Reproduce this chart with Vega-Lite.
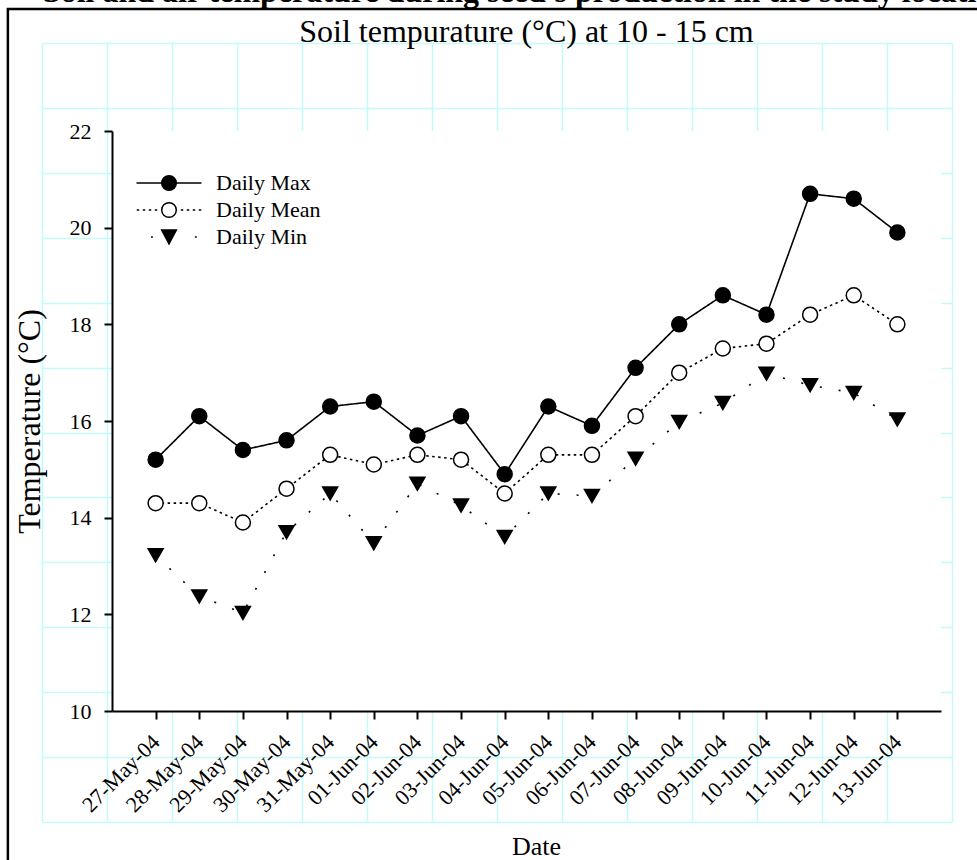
{
  "$schema": "https://vega.github.io/schema/vega-lite/v6.json",
  "width": 829,
  "height": 580,
  "autosize": {"type": "none"},
  "padding": {"left": 112, "top": 131, "right": 36, "bottom": 149},
  "background": "white",
  "config": {
    "view": {"stroke": null},
    "font": "Liberation Serif",
    "axis": {"labelFont": "Liberation Serif", "titleFont": "Liberation Serif", "labelColor": "black", "titleColor": "black", "titleFontWeight": "normal", "domainColor": "black", "tickColor": "black"},
    "legend": {"labelFont": "Liberation Serif", "labelColor": "black"}
  },
  "title": {
    "text": "Soil and air temperature during seed's production in the study location",
    "subtitle": "Soil tempurature (°C) at 10 - 15 cm",
    "anchor": "middle",
    "frame": "group",
    "font": "Liberation Serif",
    "fontSize": 32,
    "fontWeight": "bold",
    "color": "black",
    "subtitleFont": "Liberation Serif",
    "subtitleFontSize": 32,
    "subtitleFontWeight": "normal",
    "subtitleColor": "black",
    "subtitlePadding": 8,
    "offset": -41
  },
  "datasets": {
    "temps": [
      {"date": "27-May-04", "series": "Daily Max", "value": 15.2},
      {"date": "28-May-04", "series": "Daily Max", "value": 16.1},
      {"date": "29-May-04", "series": "Daily Max", "value": 15.4},
      {"date": "30-May-04", "series": "Daily Max", "value": 15.6},
      {"date": "31-May-04", "series": "Daily Max", "value": 16.3},
      {"date": "01-Jun-04", "series": "Daily Max", "value": 16.4},
      {"date": "02-Jun-04", "series": "Daily Max", "value": 15.7},
      {"date": "03-Jun-04", "series": "Daily Max", "value": 16.1},
      {"date": "04-Jun-04", "series": "Daily Max", "value": 14.9},
      {"date": "05-Jun-04", "series": "Daily Max", "value": 16.3},
      {"date": "06-Jun-04", "series": "Daily Max", "value": 15.9},
      {"date": "07-Jun-04", "series": "Daily Max", "value": 17.1},
      {"date": "08-Jun-04", "series": "Daily Max", "value": 18.0},
      {"date": "09-Jun-04", "series": "Daily Max", "value": 18.6},
      {"date": "10-Jun-04", "series": "Daily Max", "value": 18.2},
      {"date": "11-Jun-04", "series": "Daily Max", "value": 20.7},
      {"date": "12-Jun-04", "series": "Daily Max", "value": 20.6},
      {"date": "13-Jun-04", "series": "Daily Max", "value": 19.9},
      {"date": "27-May-04", "series": "Daily Mean", "value": 14.3},
      {"date": "28-May-04", "series": "Daily Mean", "value": 14.3},
      {"date": "29-May-04", "series": "Daily Mean", "value": 13.9},
      {"date": "30-May-04", "series": "Daily Mean", "value": 14.6},
      {"date": "31-May-04", "series": "Daily Mean", "value": 15.3},
      {"date": "01-Jun-04", "series": "Daily Mean", "value": 15.1},
      {"date": "02-Jun-04", "series": "Daily Mean", "value": 15.3},
      {"date": "03-Jun-04", "series": "Daily Mean", "value": 15.2},
      {"date": "04-Jun-04", "series": "Daily Mean", "value": 14.5},
      {"date": "05-Jun-04", "series": "Daily Mean", "value": 15.3},
      {"date": "06-Jun-04", "series": "Daily Mean", "value": 15.3},
      {"date": "07-Jun-04", "series": "Daily Mean", "value": 16.1},
      {"date": "08-Jun-04", "series": "Daily Mean", "value": 17.0},
      {"date": "09-Jun-04", "series": "Daily Mean", "value": 17.5},
      {"date": "10-Jun-04", "series": "Daily Mean", "value": 17.6},
      {"date": "11-Jun-04", "series": "Daily Mean", "value": 18.2},
      {"date": "12-Jun-04", "series": "Daily Mean", "value": 18.6},
      {"date": "13-Jun-04", "series": "Daily Mean", "value": 18.0},
      {"date": "27-May-04", "series": "Daily Min", "value": 13.22},
      {"date": "28-May-04", "series": "Daily Min", "value": 12.37},
      {"date": "29-May-04", "series": "Daily Min", "value": 12.03},
      {"date": "30-May-04", "series": "Daily Min", "value": 13.7},
      {"date": "31-May-04", "series": "Daily Min", "value": 14.5},
      {"date": "01-Jun-04", "series": "Daily Min", "value": 13.47},
      {"date": "02-Jun-04", "series": "Daily Min", "value": 14.7},
      {"date": "03-Jun-04", "series": "Daily Min", "value": 14.25},
      {"date": "04-Jun-04", "series": "Daily Min", "value": 13.6},
      {"date": "05-Jun-04", "series": "Daily Min", "value": 14.5},
      {"date": "06-Jun-04", "series": "Daily Min", "value": 14.45},
      {"date": "07-Jun-04", "series": "Daily Min", "value": 15.22},
      {"date": "08-Jun-04", "series": "Daily Min", "value": 15.98},
      {"date": "09-Jun-04", "series": "Daily Min", "value": 16.37},
      {"date": "10-Jun-04", "series": "Daily Min", "value": 16.98},
      {"date": "11-Jun-04", "series": "Daily Min", "value": 16.74},
      {"date": "12-Jun-04", "series": "Daily Min", "value": 16.58},
      {"date": "13-Jun-04", "series": "Daily Min", "value": 16.03}
    ]
  },
  "layer": [
    {
      "data": {"values": [{}]},
      "layer": [
        {
          "mark": {"type": "point", "opacity": 0},
          "encoding": {
            "x": {"datum": 0, "type": "quantitative",
              "scale": {"domain": [0, 28], "range": [-70, 840], "nice": false, "zero": false},
              "axis": {"orient": "top", "grid": true, "gridColor": "#c4fafa", "gridWidth": 1.5, "values": [0,1,2,3,4,5,6,7,8,9,10,11,12,13,14,15,16,17,18,19,20,21,22,23,24,25,26,27,28], "labels": false, "ticks": false, "domain": false, "title": null}},
            "y": {"datum": 0, "type": "quantitative",
              "scale": {"domain": [0, 24], "range": [691, -88], "nice": false, "zero": false},
              "axis": {"orient": "left", "grid": true, "gridColor": "#c4fafa", "gridWidth": 1.5, "values": [0,1,2,3,4,5,6,7,8,9,10,11,12,13,14,15,16,17,18,19,20,21,22,23,24], "labels": false, "ticks": false, "domain": false, "title": null}}
          }
        },
        {
          "mark": {"type": "rect", "fill": null, "stroke": "black", "strokeWidth": 2.5},
          "encoding": {
            "x": {"datum": -1.05, "type": "quantitative"},
            "x2": {"datum": 31},
            "y": {"datum": 25.05, "type": "quantitative"},
            "y2": {"datum": -6}
          }
        }
      ]
    },
    {
      "data": {"name": "temps"},
      "layer": [
        {
          "data": {"values": [{}]},
          "mark": {"type": "rect", "fill": "white"},
          "encoding": {}
        },
        {
          "mark": {"type": "line", "color": "black", "strokeWidth": 1.6},
          "encoding": {
            "x": {"field": "date", "type": "ordinal",
              "scale": {"type": "point", "padding": 0, "domain": ["26-May-04","27-May-04","28-May-04","29-May-04","30-May-04","31-May-04","01-Jun-04","02-Jun-04","03-Jun-04","04-Jun-04","05-Jun-04","06-Jun-04","07-Jun-04","08-Jun-04","09-Jun-04","10-Jun-04","11-Jun-04","12-Jun-04","13-Jun-04","14-Jun-04"]},
              "axis": {"orient": "bottom", "zindex": 1, "values": ["27-May-04","28-May-04","29-May-04","30-May-04","31-May-04","01-Jun-04","02-Jun-04","03-Jun-04","04-Jun-04","05-Jun-04","06-Jun-04","07-Jun-04","08-Jun-04","09-Jun-04","10-Jun-04","11-Jun-04","12-Jun-04","13-Jun-04"],
                "labelAngle": -45, "labelAlign": "right", "labelBaseline": "middle", "labelFontSize": 22, "labelPadding": 19,
                "tickSize": 8, "tickWidth": 2, "domainWidth": 2, "grid": false,
                "title": "Date", "titleFontSize": 26, "titleX": 424, "titleY": 143, "titleBaseline": "alphabetic"}},
            "y": {"field": "value", "type": "quantitative",
              "scale": {"domain": [10, 22], "nice": false, "zero": false},
              "axis": {"orient": "left", "zindex": 1, "values": [10,12,14,16,18,20,22], "labelFontSize": 22, "labelPadding": 13,
                "tickSize": 8, "tickWidth": 2, "domainWidth": 2, "grid": false,
                "title": "Temperature (°C)", "titleFontSize": 32, "titleX": -66, "titleBaseline": "bottom"}},
            "detail": {"field": "series"},
            "strokeDash": {"field": "series", "type": "nominal",
              "scale": {"domain": ["Daily Max", "Daily Mean", "Daily Min"], "range": [[1, 0], [2.5, 3.5], [2, 17]]},
              "legend": null}
          }
        },
        {
          "mark": {"type": "point", "stroke": "black", "strokeWidth": 1.5, "size": 225, "opacity": 1, "filled": true},
          "encoding": {
            "x": {"field": "date", "type": "ordinal"},
            "y": {"field": "value", "type": "quantitative"},
            "shape": {"field": "series", "type": "nominal",
              "scale": {"domain": ["Daily Max", "Daily Mean", "Daily Min"], "range": ["circle", "circle", "triangle-down"]},
              "legend": null},
            "fill": {"field": "series", "type": "nominal",
              "scale": {"domain": ["Daily Max", "Daily Mean", "Daily Min"], "range": ["black", "white", "black"]},
              "legend": null}
          }
        },
        {
          "transform": [{"filter": "false"}],
          "mark": {"type": "point", "strokeWidth": 1.5, "opacity": 1, "filled": true},
          "encoding": {
            "shape": {"field": "series", "type": "nominal",
              "scale": {"domain": ["Daily Max", "Daily Mean", "Daily Min"], "range": [
                "M-4.33,0L4.33,0M0.973,0A0.973,0.973,0,1,1,-0.973,0A0.973,0.973,0,1,1,0.973,0Z",
                "M-4.3,0h0.33M-3.5,0h0.33M-2.7,0h0.33M-1.9,0h0.33M1.57,0h0.33M2.37,0h0.33M3.17,0h0.33M3.97,0h0.33M0.973,0A0.973,0.973,0,1,1,-0.973,0A0.973,0.973,0,1,1,0.973,0Z",
                "M-2.4,0h0.25M3.45,0h0.25M-0.98,-0.93L0.98,-0.93L0,0.93Z"
              ]},
              "legend": {"title": null, "orient": "none", "legendX": 46, "legendY": 41, "symbolSize": 225, "symbolStrokeWidth": 1.5, "labelOffset": 36, "labelFontSize": 22, "rowPadding": 5, "padding": 0}},
            "fill": {"field": "series", "type": "nominal",
              "scale": {"domain": ["Daily Max", "Daily Mean", "Daily Min"], "range": ["black", "white", "black"]},
              "legend": {"title": null, "orient": "none", "legendX": 46, "legendY": 41, "symbolSize": 225, "symbolStrokeWidth": 1.5, "labelOffset": 36, "labelFontSize": 22, "rowPadding": 5, "padding": 0}},
            "stroke": {"field": "series", "type": "nominal",
              "scale": {"domain": ["Daily Max", "Daily Mean", "Daily Min"], "range": ["black", "black", "black"]},
              "legend": {"title": null, "orient": "none", "legendX": 46, "legendY": 41, "symbolSize": 225, "symbolStrokeWidth": 1.5, "labelOffset": 36, "labelFontSize": 22, "rowPadding": 5, "padding": 0}}
          }
        }
      ],
      "resolve": {"scale": {"shape": "independent", "fill": "independent", "stroke": "independent"}}
    }
  ],
  "resolve": {"scale": {"x": "independent", "y": "independent"}}
}
